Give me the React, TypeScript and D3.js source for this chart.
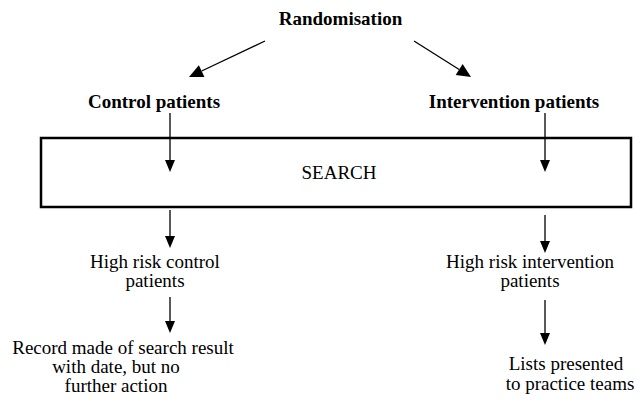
import React from "react";
import * as d3 from "d3";

// ---- content ----
const title = "Randomisation";
const groupLabels = ["Control patients", "Intervention patients"];
const stepLabel = "SEARCH";
const highRiskLabels = [
  ["High risk control", "patients"],
  ["High risk intervention", "patients"],
];
const outcomeLabels = [
  ["Record made of search result", "with date, but no", "further action"],
  ["Lists presented", "to practice teams"],
];

// ---- layout (pixel positions) ----
const W = 640;
const H = 402;
const FONT = "'Liberation Serif', 'Times New Roman', serif";
const FS = 19;
const LINE = 19;

const titlePos = { x: 340.5, y: 25 };
const groupPos = [
  { x: 154, y: 108 },
  { x: 514, y: 108 },
];
const colX = [170, 545];
const box = { x0: 41, y0: 138, x1: 631, y1: 207 };
const searchPos = { x: 339, y: 179 };
const highRiskPos = [
  { x: 155, y: 268 },
  { x: 530, y: 268 },
];
const outcomePos = [
  [
    { x: 123, y: 354 },
    { x: 116, y: 373 },
    { x: 116, y: 392 },
  ],
  [
    { x: 566, y: 370 },
    { x: 570, y: 390 },
  ],
];

type Arrow = { x1: number; y1: number; x2: number; y2: number; head: number; hw: number };
const arrows: Arrow[] = [
  { x1: 265, y1: 41, x2: 189, y2: 77, head: 14, hw: 6.5 },
  { x1: 414, y1: 41, x2: 471, y2: 77, head: 14, hw: 6.5 },
  { x1: colX[0], y1: 113, x2: colX[0], y2: 172, head: 12, hw: 5 },
  { x1: colX[1], y1: 113, x2: colX[1], y2: 172, head: 12, hw: 5 },
  { x1: colX[0], y1: 210, x2: colX[0], y2: 248, head: 12, hw: 5 },
  { x1: colX[1], y1: 215, x2: colX[1], y2: 253, head: 12, hw: 5 },
  { x1: colX[0], y1: 297, x2: colX[0], y2: 333, head: 12, hw: 5 },
  { x1: colX[1], y1: 300, x2: colX[1], y2: 345, head: 12, hw: 5 },
];

function headPath(a: Arrow) {
  const ang = Math.atan2(a.y2 - a.y1, a.x2 - a.x1);
  const bx = a.x2 - a.head * Math.cos(ang);
  const by = a.y2 - a.head * Math.sin(ang);
  const px = -Math.sin(ang) * a.hw;
  const py = Math.cos(ang) * a.hw;
  const p = d3.path();
  p.moveTo(a.x2, a.y2);
  p.lineTo(bx + px, by + py);
  p.lineTo(bx - px, by - py);
  p.closePath();
  return { d: p.toString(), bx, by };
}

export default function App() {
  React.useEffect(() => {
    document.body.style.margin = "0";
  }, []);
  return (
    <svg
      width={W}
      height={H}
      viewBox={`0 0 ${W} ${H}`}
      style={{ position: "absolute", left: 0, top: 0, background: "#fff" }}
      fontFamily={FONT}
      fontSize={FS}
    >
      <rect x={0} y={0} width={W} height={H} fill="#fff" />
      <text x={titlePos.x} y={titlePos.y} textAnchor="middle" fontWeight="bold">
        {title}
      </text>
      {groupLabels.map((g, i) => (
        <text key={g} x={groupPos[i].x} y={groupPos[i].y} textAnchor="middle" fontWeight="bold">
          {g}
        </text>
      ))}
      <rect
        x={box.x0}
        y={box.y0}
        width={box.x1 - box.x0}
        height={box.y1 - box.y0}
        fill="none"
        stroke="#000"
        strokeWidth={2.5}
      />
      <text x={searchPos.x} y={searchPos.y} textAnchor="middle">
        {stepLabel}
      </text>
      {highRiskLabels.map((lines, i) =>
        lines.map((l, j) => (
          <text
            key={`h${i}${j}`}
            x={highRiskPos[i].x}
            y={highRiskPos[i].y + j * LINE}
            textAnchor="middle"
          >
            {l}
          </text>
        ))
      )}
      {outcomeLabels.map((lines, i) =>
        lines.map((l, j) => (
          <text key={`o${i}${j}`} x={outcomePos[i][j].x} y={outcomePos[i][j].y} textAnchor="middle">
            {l}
          </text>
        ))
      )}
      {arrows.map((a, i) => {
        const h = headPath(a);
        return (
          <g key={i}>
            <line x1={a.x1} y1={a.y1} x2={h.bx} y2={h.by} stroke="#000" strokeWidth={1.3} />
            <path d={h.d} fill="#000" />
          </g>
        );
      })}
    </svg>
  );
}
